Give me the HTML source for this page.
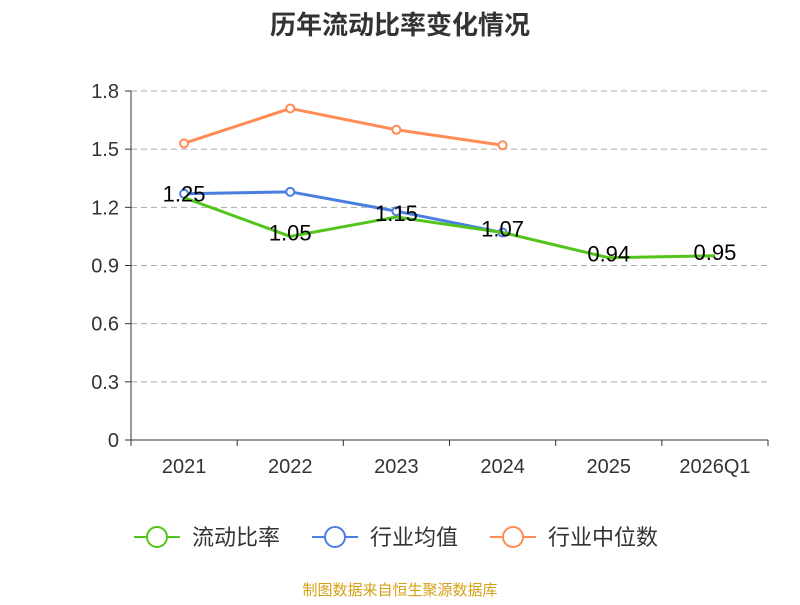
<!DOCTYPE html>
<html><head><meta charset="utf-8"><style>
body{margin:0;background:#fff;}
svg text{font-family:"Liberation Sans","Noto Sans CJK SC",sans-serif;}
</style></head><body>
<svg id="chart" width="800" height="600" xmlns="http://www.w3.org/2000/svg">
<text x="400" y="34" text-anchor="middle" font-size="26" font-weight="bold" fill="#333">历年流动比率变化情况</text>
<g id="grid"></g><g id="axes"></g><g id="series"></g>
<g>
<g><line x1="134" y1="537" x2="180" y2="537" stroke="#52c41a" stroke-width="2"/><circle cx="157" cy="537" r="10" fill="#fff" stroke="#52c41a" stroke-width="2"/><text x="192" y="545" font-size="22" fill="#333">流动比率</text></g>
<g><line x1="312" y1="537" x2="358" y2="537" stroke="#4a7ee0" stroke-width="2"/><circle cx="335" cy="537" r="10" fill="#fff" stroke="#4a7ee0" stroke-width="2"/><text x="370" y="545" font-size="22" fill="#333">行业均值</text></g>
<g><line x1="490" y1="537" x2="536" y2="537" stroke="#ff8c55" stroke-width="2"/><circle cx="513" cy="537" r="10" fill="#fff" stroke="#ff8c55" stroke-width="2"/><text x="548" y="545" font-size="22" fill="#333">行业中位数</text></g>
</g>
<text x="400" y="595" text-anchor="middle" font-size="15" fill="#d4a017">制图数据来自恒生聚源数据库</text>
</svg>
<script>
const categories=["2021","2022","2023","2024","2025","2026Q1"];
const ratioValues=[1.25,1.05,1.15,1.07,0.94,0.95];
const avgValues=[1.27,1.28,1.18,1.07];
const medianValues=[1.53,1.71,1.60,1.52];
const yTicks=[0,0.3,0.6,0.9,1.2,1.5,1.8];
const NS="http://www.w3.org/2000/svg";
const L=131,R=768,T=91,B=440,yMax=1.8;
const bw=(R-L)/categories.length;
function xs(i){return L+bw*(i+0.5);}
function ys(v){return B-(v/yMax)*(B-T);}
function mk(tag,attrs,parent,txt){const e=document.createElementNS(NS,tag);for(const k in attrs)e.setAttribute(k,attrs[k]);if(txt!==undefined)e.textContent=txt;parent.appendChild(e);return e;}
const grid=document.getElementById('grid'),axes=document.getElementById('axes'),ser=document.getElementById('series');
yTicks.forEach(t=>{const y=ys(t);
 if(t>0){const g=mk('line',{x1:L,x2:R,y1:y,y2:y,stroke:'#aaa','stroke-dasharray':'6,4'},grid);
 
 }
 mk('line',{x1:L-6,x2:L,y1:y,y2:y,stroke:'#333'},axes);
 const lb=mk('text',{x:L-12,y:y+7,'text-anchor':'end','font-size':20,fill:'#333'},axes,String(t));
 
 
});
mk('line',{x1:L,x2:L,y1:T,y2:B,stroke:'#333'},axes);
mk('line',{x1:L,x2:R,y1:B,y2:B,stroke:'#333'},axes);
for(let i=0;i<=categories.length;i++){const x=L+bw*i;mk('line',{x1:x,x2:x,y1:B,y2:B+6,stroke:'#333'},axes);}
categories.forEach((c,i)=>{const t=mk('text',{x:xs(i),y:B+33,'text-anchor':'middle','font-size':20,fill:'#333'},axes,c);
 
 });
function line(vals,color,name,dots,labels){
 const p=mk('polyline',{points:vals.map((v,i)=>xs(i)+','+ys(v)).join(' '),fill:'none',stroke:color,'stroke-width':3},ser);
 
 
 vals.forEach((v,i)=>{
  if(dots){const c=mk('circle',{cx:xs(i),cy:ys(v),r:4,fill:'#fff',stroke:color,'stroke-width':2},ser);
  
  }
  if(labels){const t=mk('text',{x:xs(i),y:ys(v)+4,'text-anchor':'middle','font-size':22,fill:'#000'},ser,v.toFixed(2));
  
  }
 });
}
line(medianValues,'#ff8c55','industry-median',true,false);
line(avgValues,'#4a7ee0','industry-average',true,false);
line(ratioValues,'#52c41a','liquidity-ratio',false,true);
</script>
</body></html>
